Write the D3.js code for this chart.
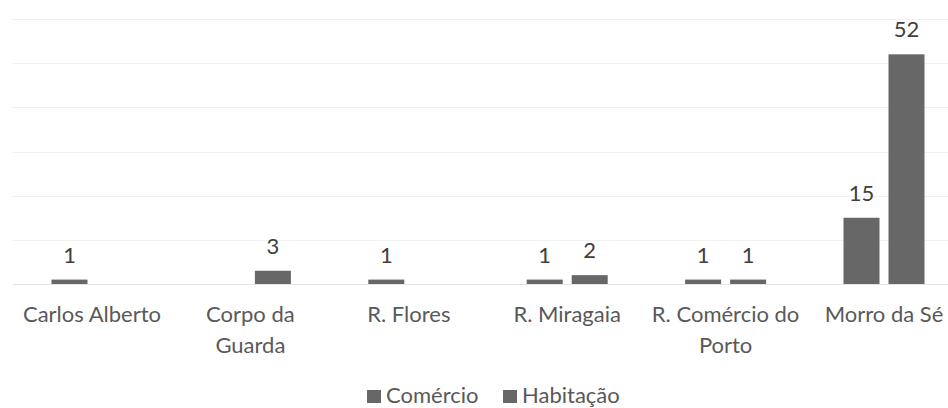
<!DOCTYPE html>
<html>
<head>
<meta charset="utf-8">
<script src="https://cdn.jsdelivr.net/npm/d3@7"></script>
<style>
  html, body { margin: 0; padding: 0; background: #fff; }
  svg { display: block; }
  text { font-family: Lato, "Noto Sans", sans-serif; }
</style>
</head>
<body>
<svg id="chart" width="948" height="408"></svg>
<script>
// Building counts per street, by use
const categories = [
  ["Carlos Alberto"],
  ["Corpo da", "Guarda"],
  ["R. Flores"],
  ["R. Miragaia"],
  ["R. Comércio do", "Porto"],
  ["Morro da Sé"]
];
const seriesNames = ["Comércio", "Habitação"];
const comercio  = [1, null, 1, 1, 1, 15];
const habitacao = [null, 3, null, 2, 1, 52];
const yTicks = [0, 10, 20, 30, 40, 50, 60];

const W = 948, H = 408;
const plot = { left: 12.8, right: 963.2, top: 19, bottom: 284 };
const barColor = "#676767";

const svg = d3.select("#chart");

const keys = categories.map(c => c.join(" "));
const x0 = d3.scaleBand().domain(keys).range([plot.left, plot.right]).padding(0);
const groupWidth = 81;
const x1 = d3.scaleBand().domain(seriesNames)
  .range([-groupWidth / 2, groupWidth / 2]).paddingInner(0.2).paddingOuter(0);
const y = d3.scaleLinear().domain([0, 60]).range([plot.bottom, plot.top]);

// horizontal gridlines
svg.append("g")
  .selectAll("line")
  .data(yTicks)
  .join("line")
  .attr("x1", plot.left).attr("x2", W)
  .attr("y1", d => Math.round(y(d)) + 0.5)
  .attr("y2", d => Math.round(y(d)) + 0.5)
  .attr("stroke", d => d === 0 ? "#e4e4e4" : "#f1f1f1")
  .attr("stroke-width", 1);

const rows = keys.map((k, i) => ({ key: k, values: [comercio[i], habitacao[i]] }));

const groups = svg.append("g")
  .selectAll("g")
  .data(rows)
  .join("g")
  .attr("transform", d => `translate(${x0(d.key) + x0.bandwidth() / 2},0)`);

const cells = groups.selectAll("g")
  .data(d => d.values.map((v, j) => ({ s: seriesNames[j], v })).filter(e => e.v != null))
  .join("g");

cells.append("rect")
  .attr("x", d => x1(d.s))
  .attr("width", x1.bandwidth())
  .attr("y", d => y(d.v))
  .attr("height", d => y(0) - y(d.v))
  .attr("fill", barColor);

cells.append("text")
  .attr("x", d => x1(d.s) + x1.bandwidth() / 2)
  .attr("y", d => y(d.v) - 17)
  .attr("text-anchor", "middle")
  .attr("font-size", 22)
  .attr("fill", "#404040")
  .text(d => d.v);

// category labels (wrapped onto two lines where needed)
const catLabels = svg.append("g")
  .selectAll("text")
  .data(categories)
  .join("text")
  .attr("x", (d, i) => x0(keys[i]) + x0.bandwidth() / 2)
  .attr("y", 322)
  .attr("text-anchor", "middle")
  .attr("font-size", 22)
  .attr("fill", "#595959");
catLabels.selectAll("tspan")
  .data(d => d)
  .join("tspan")
  .attr("x", function() { return d3.select(this.parentNode).attr("x"); })
  .attr("dy", (d, i) => i === 0 ? 0 : 31)
  .text(d => d);

// legend
const legendItems = [
  { name: seriesNames[0], x: 367 },
  { name: seriesNames[1], x: 503 }
];
const legend = svg.append("g")
  .selectAll("g")
  .data(legendItems)
  .join("g")
  .attr("transform", d => `translate(${d.x},390)`);
legend.append("rect")
  .attr("width", 14).attr("height", 13)
  .attr("fill", barColor);
legend.append("text")
  .attr("x", 19).attr("y", 13)
  .attr("font-size", 22)
  .attr("fill", "#595959")
  .text(d => d.name);
</script>
</body>
</html>
